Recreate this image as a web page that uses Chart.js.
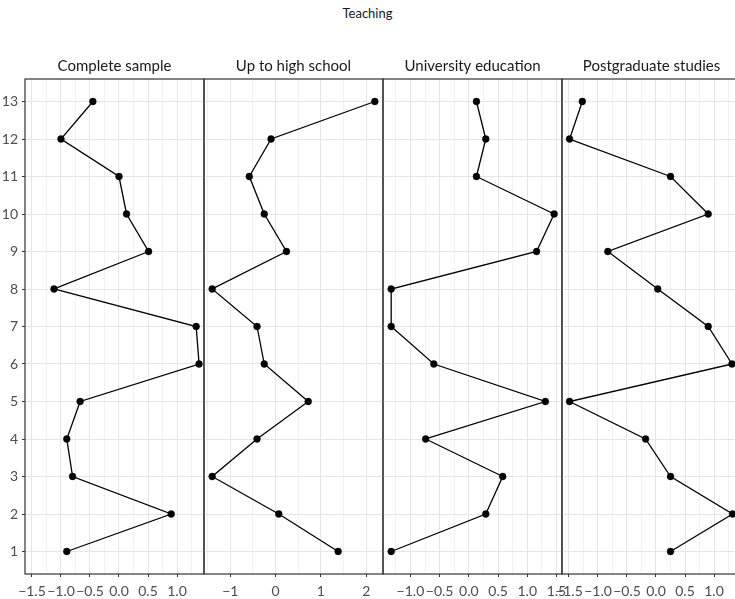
<!DOCTYPE html>
<html><head><meta charset="utf-8">
<script src="https://cdn.jsdelivr.net/npm/chart.js@4"></script>
<style>
html,body{margin:0;padding:0;overflow:hidden;background:#fff;width:735px;height:599px;position:relative}
#title{position:absolute;left:0;width:735px;top:5px;text-align:center;font:13px Lato,sans-serif;color:#1a1a1a}
canvas.p{position:absolute;top:0}
</style></head><body>
<div id="title">Teaching</div>
<canvas class="p" id="c0"></canvas>
<canvas class="p" id="c1"></canvas>
<canvas class="p" id="c2"></canvas>
<canvas class="p" id="c3"></canvas>
<script>
// ---- data ----
const items = [1,2,3,4,5,6,7,8,9,10,11,12,13];
const panelNames = ["Complete sample","Up to high school","University education","Postgraduate studies"];
const completeSample      = [-0.90, 0.90,-0.80,-0.90,-0.67, 1.38, 1.33,-1.12, 0.51, 0.13, 0.00,-1.00,-0.45];
const upToHighSchool      = [ 1.38, 0.07,-1.40,-0.41, 0.72,-0.25,-0.41,-1.40, 0.24,-0.25,-0.58,-0.10, 2.19];
const universityEducation = [-1.33, 0.29, 0.58,-0.74, 1.31,-0.60,-1.33,-1.33, 1.16, 1.46, 0.13, 0.29, 0.13];
const postgraduateStudies = [ 0.25, 1.32, 0.25,-0.18,-1.49, 1.31, 0.90, 0.03,-0.83, 0.90, 0.25,-1.49,-1.27];
const seriesList = [completeSample, upToHighSchool, universityEducation, postgraduateStudies];

// tick breaks per panel
const majorA = [-1.5,-1.0,-0.5,0.0,0.5,1.0];
const majorALabels = ["\u22121.5","\u22121.0","\u22120.5","0.0","0.5","1.0"];
const minorA = [-1.25,-0.75,-0.25,0.25,0.75,1.25];
const majorB = [-1,0,1,2];
const majorBLabels = ["\u22121","0","1","2"];
const minorB = [-1.5,-0.5,0.5,1.5];
const majorC = [-1.0,-0.5,0.0,0.5,1.0,1.5];
const majorCLabels = ["\u22121.0","\u22120.5","0.0","0.5","1.0","1.5"];
const minorC = [-1.25,-0.75,-0.25,0.25,0.75,1.25];
const xMajor = [majorA, majorB, majorC, majorA];
const xMajorLabels = [majorALabels, majorBLabels, majorCLabels, majorALabels];
const xMinor = [minorA, minorB, minorC, minorA];
const xMin = [-1.62,-1.58,-1.47,-1.62];
const xMax = [1.465,2.37,1.595,1.465];
const yMin = 0.4, yMax = 13.6;

// ---- layout ----
const H = 599, TOP = 79, BOTTOM = 574, M = 20;
const panelLeft = [25,204,383,562];
const panelW = 179;
const FONT = "Lato, 'Open Sans', sans-serif";
const STRIP = 15;

const borderPlugin = {
  id:'panelBorder',
  afterDraw(chart){
    const a = chart.chartArea, c = chart.ctx;
    c.save(); c.strokeStyle='#333333'; c.lineWidth=1.2;
    c.strokeRect(a.left, a.top, a.right-a.left, a.bottom-a.top);
    c.restore();
  }
};

for (let i=0;i<4;i++){
  const first = i===0;
  const canvas = document.getElementById('c'+i);
  const cl = first ? 0 : panelLeft[i]-M;
  const cw = first ? panelLeft[1]+M : panelW+2*M;
  canvas.width = cw; canvas.height = H;
  canvas.style.left = cl+'px'; canvas.style.width = cw+'px'; canvas.style.height = H+'px';
  const labelMap = new Map(xMajor[i].map((v,k)=>[v, xMajorLabels[i][k]]));
  const majorSet = new Set(xMajor[i]);
  const allX = xMajor[i].concat(xMinor[i]).sort((a,b)=>a-b);
  const vals = seriesList[i];
  new Chart(canvas, {
    type:'scatter',
    data:{datasets:[{
      data: items.map((it,k)=>({x: vals[k], y: it})),
      showLine:true, borderColor:'#000', borderWidth:1.3,
      pointRadius:3.4, pointBackgroundColor:'#000', pointBorderColor:'#000', pointBorderWidth:0.5,
      clip:false
    }]},
    options:{
      responsive:false, animation:false, devicePixelRatio:1,
      layout:{padding:{top: TOP-(STRIP*1.2+4), left: first?0:M, right:M, bottom:0}},
      plugins:{
        legend:{display:false}, tooltip:{enabled:false},
        title:{display:true, text:panelNames[i], fullSize:false, color:'#1a1a1a',
               font:{family:FONT, size:STRIP, weight:'normal', lineHeight:1.2}, padding:{top:0,bottom:4}}
      },
      scales:{
        x:{type:'linear', min:xMin[i], max:xMax[i],
           afterBuildTicks:s=>{ s.ticks = allX.map(v=>({value:v})); },
           afterFit:s=>{ s.height = H-BOTTOM; s.paddingLeft=0; s.paddingRight=0; },
           border:{display:false},
           grid:{ color:c=> majorSet.has(c.tick.value)?'#e6e6e6':'#f1f1f1', lineWidth:1,
                  tickLength:3, tickColor:c=> majorSet.has(c.tick.value)?'#333333':'rgba(0,0,0,0)', drawTicks:true},
           ticks:{autoSkip:false, maxRotation:0, minRotation:0, padding:6, color:'#4d4d4d',
                  font:{family:FONT,size:14},
                  callback:v=> labelMap.has(v)?labelMap.get(v):''}
        },
        y:{type:'linear', min:yMin, max:yMax,
           afterBuildTicks:s=>{ s.ticks = items.map(v=>({value:v})); },
           afterFit:s=>{ s.width = first?panelLeft[0]:0; s.paddingTop=0; s.paddingBottom=0; },
           border:{display:false},
           grid:{color:'#e6e6e6', lineWidth:1, drawTicks:first, tickLength:3, tickColor:'#333333'},
           ticks:{display:first, padding:4, color:'#4d4d4d', font:{family:FONT,size:14},
                  callback:v=>String(v)}
        }
      }
    },
    plugins:[borderPlugin]
  });
}
</script>
</body></html>
